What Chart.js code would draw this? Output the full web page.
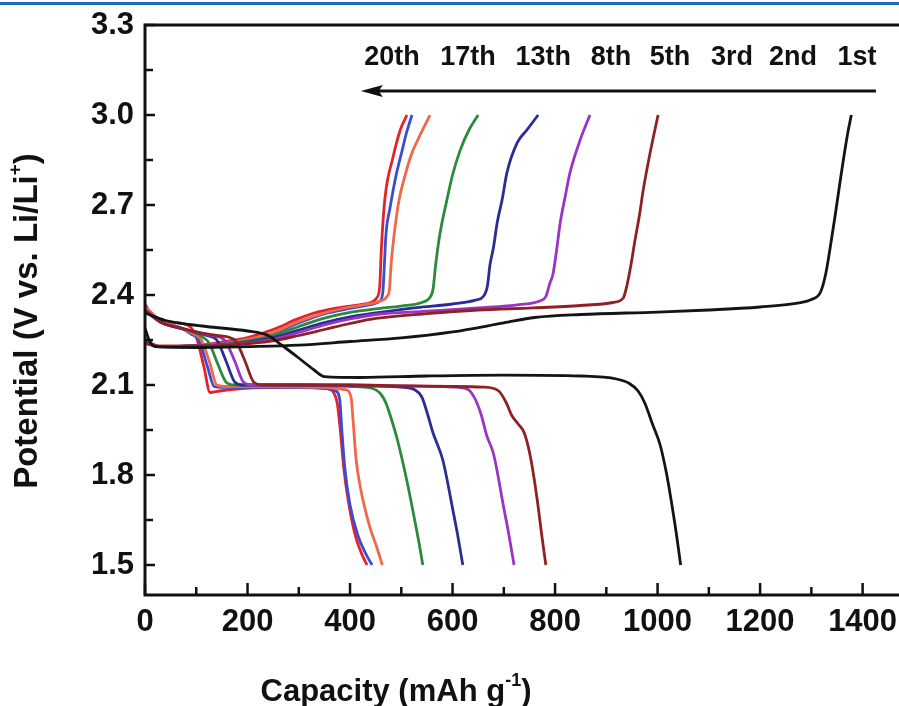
<!DOCTYPE html>
<html>
<head>
<meta charset="utf-8">
<script src="https://cdn.jsdelivr.net/npm/chart.js@4.4.1/dist/chart.umd.min.js"></script>
<style>
  html, body { margin: 0; padding: 0; background: #fff; }
  #wrap { position: relative; width: 899px; height: 706px; overflow: hidden; }
  #topline { position: absolute; left: 0; top: 2px; width: 899px; height: 3px; background: #1c6dbb; }
  canvas { position: absolute; left: 0; top: 0; }
</style>
</head>
<body>
<div id="wrap">
  <canvas id="c" width="899" height="706"></canvas>
  <div id="topline"></div>
</div>
<script>
// ---------- DATA ----------
const cycleLabels = ['1st', '2nd', '3rd', '5th', '8th', '13th', '17th', '20th'];
const annLabels = ['20th', '17th', '13th', '8th', '5th', '3rd', '2nd', '1st'];
const annCaps = [482, 630, 777, 909, 1024, 1145, 1264, 1389];
const annV = 3.19;
const arrowCaps = [1426, 421];
const arrowV = 3.08;

const xTickValues = [0, 200, 400, 600, 800, 1000, 1200, 1400];
const xMinorValues = [100, 300, 500, 700, 900, 1100, 1300];
const yTickValues = [1.5, 1.8, 2.1, 2.4, 2.7, 3.0, 3.3];
const yMinorValues = [1.65, 1.95, 2.25, 2.55, 2.85, 3.15];

// discharge curves [capacity, potential]
const dis1 = [[0,2.34],[40,2.315],[120,2.295],[200,2.28],[240,2.265],[265,2.235],[300,2.19],[330,2.15],[350,2.128],[420,2.125],[550,2.13],[700,2.133],[850,2.13],[920,2.12],[945,2.105],[962,2.08],[975,2.04],[990,1.97],[1005,1.9],[1018,1.8],[1028,1.7],[1037,1.6],[1045,1.5]];
const dis2 = [[0,2.35],[30,2.31],[80,2.285],[140,2.265],[175,2.25],[195,2.18],[212,2.11],[230,2.1],[300,2.1],[400,2.1],[500,2.097],[600,2.095],[660,2.093],[690,2.08],[705,2.04],[715,2.0],[728,1.97],[740,1.94],[752,1.86],[765,1.72],[774,1.6],[782,1.5]];
const dis3 = [[0,2.35],[30,2.31],[80,2.285],[130,2.265],[155,2.25],[175,2.18],[192,2.11],[210,2.1],[300,2.1],[400,2.1],[500,2.097],[600,2.093],[630,2.085],[645,2.05],[656,2.0],[667,1.93],[680,1.87],[700,1.69],[710,1.6],[720,1.5]];
const dis5 = [[0,2.35],[30,2.31],[80,2.285],[120,2.265],[140,2.25],[158,2.18],[175,2.11],[190,2.1],[300,2.1],[400,2.098],[500,2.093],[525,2.085],[540,2.06],[550,2.01],[562,1.94],[581,1.85],[601,1.68],[610,1.6],[620,1.5]];
const dis8 = [[0,2.35],[30,2.31],[80,2.285],[110,2.262],[125,2.24],[142,2.17],[158,2.11],[175,2.1],[300,2.1],[400,2.095],[440,2.09],[460,2.07],[470,2.04],[480,1.99],[492,1.92],[511,1.78],[525,1.66],[535,1.57],[542,1.5]];
const dis13 = [[0,2.36],[30,2.315],[70,2.29],[95,2.27],[110,2.25],[127,2.17],[140,2.1],[160,2.095],[250,2.095],[350,2.092],[390,2.085],[402,2.06],[406,1.98],[412,1.85],[420,1.76],[438,1.63],[452,1.56],[463,1.5]];
const dis17 = [[0,2.36],[30,2.315],[70,2.29],[90,2.27],[105,2.25],[122,2.16],[135,2.095],[150,2.092],[250,2.093],[340,2.09],[372,2.08],[380,2.05],[384,1.95],[390,1.82],[400,1.7],[415,1.6],[430,1.54],[443,1.5]];
const dis20 = [[0,2.37],[16,2.327],[50,2.31],[85,2.298],[100,2.26],[115,2.16],[127,2.075],[145,2.08],[205,2.09],[300,2.092],[355,2.088],[368,2.075],[375,2.04],[381,1.95],[388,1.82],[396,1.72],[410,1.6],[422,1.54],[433,1.5]];

// charge curves [capacity, potential]
const chg1 = [[0,2.29],[8,2.25],[20,2.228],[100,2.225],[200,2.228],[300,2.233],[400,2.245],[500,2.257],[600,2.277],[700,2.307],[760,2.325],[850,2.335],[1000,2.343],[1100,2.35],[1200,2.36],[1270,2.372],[1300,2.385],[1318,2.41],[1328,2.47],[1336,2.55],[1346,2.66],[1358,2.8],[1370,2.93],[1378,3.0]];
const chg2 = [[0,2.24],[30,2.228],[100,2.23],[150,2.232],[200,2.238],[250,2.247],[300,2.265],[350,2.285],[400,2.305],[450,2.322],[550,2.338],[650,2.35],[757,2.357],[850,2.365],[913,2.375],[933,2.39],[940,2.43],[948,2.5],[956,2.583],[965,2.67],[972,2.75],[985,2.87],[1001,3.0]];
const chg3 = [[0,2.24],[30,2.228],[100,2.23],[150,2.233],[200,2.24],[250,2.252],[300,2.275],[350,2.3],[400,2.32],[450,2.335],[550,2.346],[650,2.357],[730,2.368],[770,2.38],[782,2.395],[790,2.44],[796,2.47],[803,2.55],[810,2.64],[820,2.73],[829,2.807],[849,2.917],[868,3.0]];
const chg5 = [[0,2.24],[30,2.228],[100,2.23],[150,2.234],[200,2.243],[250,2.258],[300,2.283],[350,2.308],[400,2.327],[450,2.34],[530,2.358],[600,2.37],[645,2.383],[660,2.395],[668,2.43],[673,2.5],[680,2.56],[687,2.64],[697,2.72],[706,2.807],[726,2.907],[745,2.95],[767,3.0]];
const chg8 = [[0,2.24],[30,2.228],[100,2.23],[150,2.236],[200,2.247],[250,2.265],[300,2.295],[350,2.323],[400,2.342],[450,2.354],[500,2.363],[540,2.375],[555,2.39],[562,2.42],[567,2.5],[575,2.6],[589,2.717],[600,2.8],[615,2.883],[632,2.95],[650,3.0]];
const chg13 = [[0,2.24],[30,2.228],[100,2.23],[150,2.238],[200,2.252],[250,2.275],[300,2.312],[350,2.34],[400,2.36],[450,2.375],[466,2.385],[472,2.395],[477,2.42],[480,2.5],[486,2.6],[496,2.72],[506,2.79],[520,2.87],[533,2.92],[556,3.0]];
const chg17 = [[0,2.24],[30,2.228],[100,2.23],[150,2.238],[200,2.252],[250,2.272],[300,2.307],[350,2.337],[400,2.355],[440,2.368],[458,2.38],[464,2.41],[467,2.5],[470,2.6],[478,2.69],[490,2.8],[500,2.87],[510,2.94],[521,3.0]];
const chg20 = [[0,2.245],[30,2.23],[100,2.232],[150,2.243],[200,2.258],[250,2.285],[300,2.322],[330,2.34],[370,2.355],[420,2.368],[440,2.375],[452,2.39],[458,2.43],[461,2.55],[468,2.72],[484,2.86],[498,2.95],[511,3.0]];

const dischargeCurves = [dis1, dis2, dis3, dis5, dis8, dis13, dis17, dis20];
const chargeCurves = [chg1, chg2, chg3, chg5, chg8, chg13, chg17, chg20];
const cycleColors = ['#141414', '#8e2222', '#9a34c4', '#2c2c92', '#2b8a3c', '#f0684a', '#3c4cd0', '#e4222c'];

// ---------- CHART ----------
const FONT = '"Liberation Sans", Arial, Helvetica, sans-serif';
const datasets = [];
cycleLabels.forEach((lab, i) => {
  [dischargeCurves[i], chargeCurves[i]].forEach((curve, k) => {
    datasets.push({
      label: lab + (k === 0 ? ' discharge' : ' charge'),
      data: curve.map(p => ({ x: p[0], y: p[1] })),
      borderColor: cycleColors[i],
      backgroundColor: cycleColors[i],
      borderWidth: 2.8,
      pointRadius: 0,
      showLine: true,
      fill: false,
      cubicInterpolationMode: 'monotone'
    });
  });
});

const framePlugin = {
  id: 'frame',
  afterDatasetsDraw(chart) {
    const { ctx, chartArea: a, scales: { x, y } } = chart;
    ctx.save();
    ctx.strokeStyle = '#111';
    ctx.fillStyle = '#111';
    ctx.lineCap = 'butt';
    // frame
    ctx.lineWidth = 3;
    ctx.beginPath();
    ctx.moveTo(a.right + 5, a.top);
    ctx.lineTo(a.left, a.top);
    ctx.lineTo(a.left, a.bottom);
    ctx.lineTo(a.right + 5, a.bottom);
    ctx.stroke();
    // ticks (inward)
    ctx.lineWidth = 2.5;
    const seg = (x1, y1, x2, y2) => { ctx.beginPath(); ctx.moveTo(x1, y1); ctx.lineTo(x2, y2); ctx.stroke(); };
    xTickValues.forEach(v => { const p = x.getPixelForValue(v); seg(p, a.bottom, p, a.bottom - 12); });
    xMinorValues.forEach(v => { const p = x.getPixelForValue(v); seg(p, a.bottom, p, a.bottom - 8); });
    yTickValues.forEach(v => { const p = y.getPixelForValue(v); seg(a.left, p, a.left + 10, p); });
    yMinorValues.forEach(v => { const p = y.getPixelForValue(v); seg(a.left, p, a.left + 8, p); });
    // cycle annotations
    ctx.font = 'bold 27px ' + FONT;
    ctx.textAlign = 'center';
    ctx.textBaseline = 'middle';
    annLabels.forEach((t, i) => ctx.fillText(t, x.getPixelForValue(annCaps[i]), y.getPixelForValue(annV)));
    // arrow
    const ax1 = x.getPixelForValue(arrowCaps[0]);
    const ax2 = x.getPixelForValue(arrowCaps[1]);
    const ay = y.getPixelForValue(arrowV);
    ctx.lineWidth = 3;
    seg(ax1, ay, ax2 + 10, ay);
    ctx.beginPath();
    ctx.moveTo(ax2, ay);
    ctx.lineTo(ax2 + 22, ay - 6);
    ctx.lineTo(ax2 + 18, ay);
    ctx.lineTo(ax2 + 22, ay + 6);
    ctx.closePath();
    ctx.fill();
    // x axis title
    ctx.textBaseline = 'alphabetic';
    ctx.textAlign = 'left';
    let big = 'bold 31px ' + FONT, small = 'bold 18px ' + FONT;
    const t1 = 'Capacity (mAh g', t3 = ')';
    ctx.font = small; const w2 = ctx.measureText('-1').width;
    ctx.font = big; const w1 = ctx.measureText(t1).width, w3 = ctx.measureText(t3).width;
    let sx = 396 - (w1 + w2 + w3) / 2;
    const by = 701;
    ctx.fillText(t1, sx, by);
    ctx.font = small; ctx.fillText('-1', sx + w1, by - 15);
    ctx.font = big; ctx.fillText(t3, sx + w1 + w2, by);
    // y axis title
    big = 'bold 33px ' + FONT; small = 'bold 19px ' + FONT;
    ctx.save();
    ctx.translate(37, 321);
    ctx.rotate(-Math.PI / 2);
    const u1 = 'Potential (V vs. Li/Li', u3 = ')';
    ctx.font = small; const v2 = ctx.measureText('+').width;
    ctx.font = big; const v1 = ctx.measureText(u1).width, v3 = ctx.measureText(u3).width;
    let s2 = -(v1 + v2 + v3) / 2;
    ctx.fillText(u1, s2, 0);
    ctx.font = small; ctx.fillText('+', s2 + v1, -16);
    ctx.font = big; ctx.fillText(u3, s2 + v1 + v2, 0);
    ctx.restore();
    ctx.restore();
  }
};

new Chart(document.getElementById('c'), {
  type: 'scatter',
  data: { datasets },
  options: {
    responsive: false,
    animation: false,
    devicePixelRatio: 1,
    layout: { padding: { top: 25, right: 0, bottom: 0, left: 0 } },
    plugins: { legend: { display: false }, tooltip: { enabled: false } },
    scales: {
      x: {
        type: 'linear', min: 0, max: 1471,
        grid: { display: false, drawTicks: false },
        border: { display: false },
        afterBuildTicks: s => { s.ticks = xTickValues.map(v => ({ value: v })); },
        afterFit: s => { s.height = 111; s.paddingLeft = 0; s.paddingRight = 0; },
        ticks: { color: '#111', padding: 9, maxRotation: 0, autoSkip: false,
                 font: { family: FONT, size: 31, weight: 'bold' },
                 callback: v => String(v) }
      },
      y: {
        type: 'linear', min: 1.4, max: 3.3,
        grid: { display: false, drawTicks: false },
        border: { display: false },
        afterBuildTicks: s => { s.ticks = yTickValues.map(v => ({ value: v })); },
        afterFit: s => { s.width = 145; s.paddingTop = 0; s.paddingBottom = 0; },
        ticks: { color: '#111', padding: 11, autoSkip: false,
                 font: { family: FONT, size: 31, weight: 'bold' },
                 callback: v => Number(v).toFixed(1) }
      }
    }
  },
  plugins: [framePlugin]
});
</script>
</body>
</html>
